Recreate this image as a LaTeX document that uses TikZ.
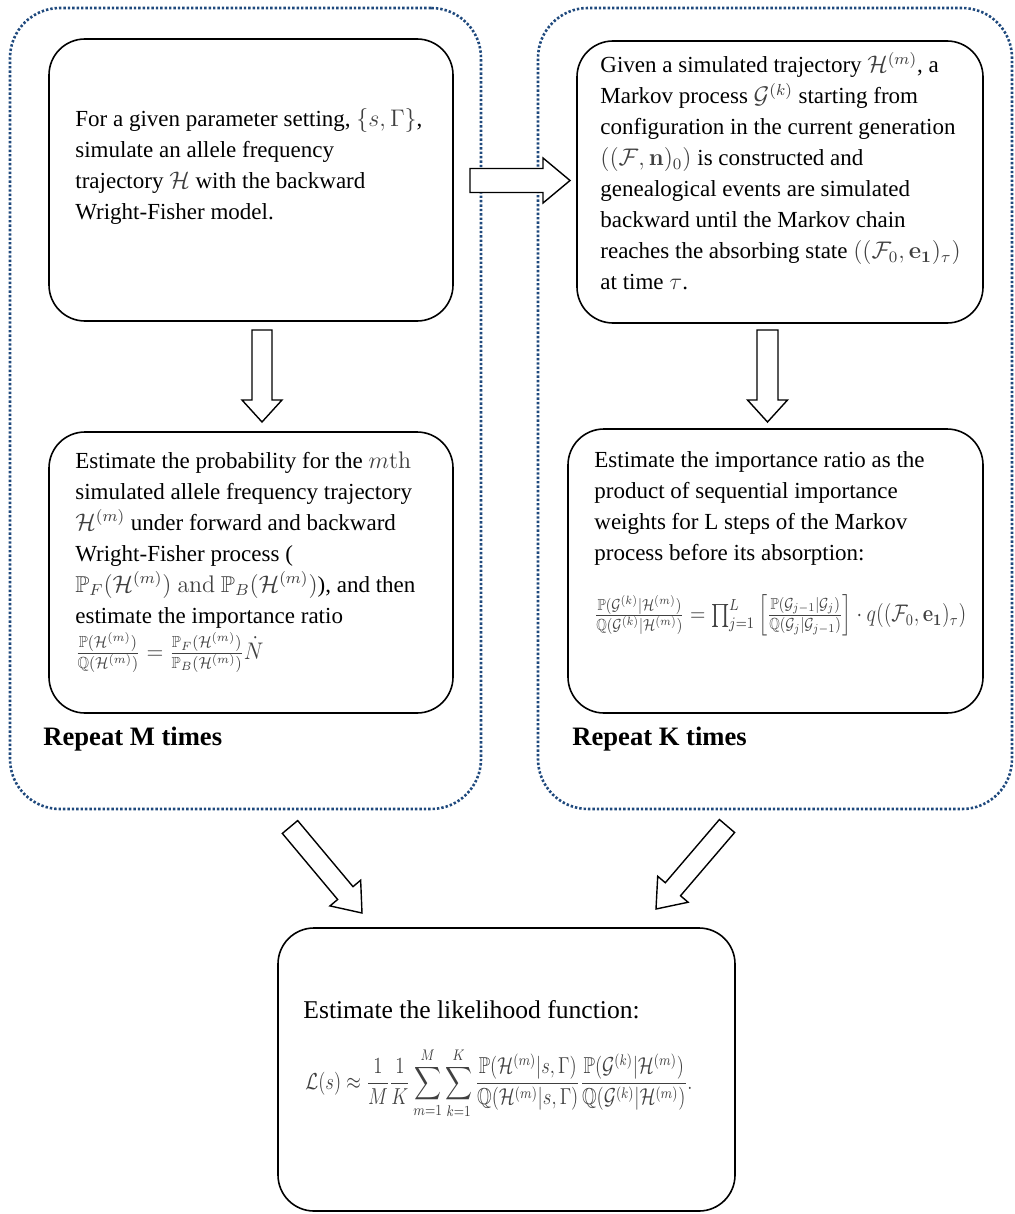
\documentclass[tikz,border=0pt]{standalone}
\usepackage{amsmath,amssymb}
\usepackage{graphicx}
\usepackage[no-math]{fontspec}
\setmainfont{Liberation Serif}
\usetikzlibrary{calc}
\definecolor{dotblue}{RGB}{31,73,125}
\everymath{\color{black!75}}
\newcommand\blockarrow[6]{%
  \coordinate (#3h) at ($(#2)!#6!(#1)$);
  \draw[barrow] ($(#1)!#4!90:(#2)$) -- ($(#3h)!#4!90:(#2)$) -- ($(#3h)!#5!90:(#2)$) -- (#2)
   -- ($(#3h)!#5!-90:(#2)$) -- ($(#3h)!#4!-90:(#2)$) -- ($(#1)!#4!-90:(#2)$) -- cycle;}
\newcommand\para[1]{\parbox[t]{260pt}{\fontsize{11.5pt}{15.5pt}\selectfont #1}}
\begin{document}
\begin{tikzpicture}[x=0.5pt,y=-0.5pt,
  container/.style={draw=dotblue, line width=1.3pt, dash pattern=on 1.2pt off 1pt, rounded corners=25pt, inner sep=0pt},
  roundbox/.style={draw=black, line width=0.8pt, rounded corners=18pt, inner sep=0pt},
  barrow/.style={draw=black, fill=white, line width=0.7pt, line join=miter},
  txt/.style={anchor=base west, inner sep=0pt},
  rep/.style={anchor=base west, inner sep=0pt, font=\fontsize{13.3pt}{15pt}\selectfont\bfseries}]
\useasboundingbox (0,0) rectangle (1015,1214);
% dotted containers
\node[container, minimum width=235.5pt, minimum height=400.5pt] (c1) at (245.5,408.5) {};
\node[container, minimum width=237pt, minimum height=400.5pt] (c2) at (775,408.5) {};
% boxes
\node[roundbox, minimum width=202pt, minimum height=141pt] (b1) at (251,180) {};
\node[roundbox, minimum width=202pt, minimum height=140.5pt] (b2) at (251,572.5) {};
\node[roundbox, minimum width=203pt, minimum height=141pt] (b3) at (780,182) {};
\node[roundbox, minimum width=207.5pt, minimum height=142pt] (b4) at (775.5,571) {};
\node[roundbox, minimum width=228.5pt, minimum height=141.5pt] (b5) at (506.5,1069.5) {};
% texts
\node[txt] (t1) at (75,127) {\para{For a given parameter setting, $\{s,\Gamma\}$,\\
simulate an allele frequency\\
trajectory $\mathcal{H}$ with the backward\\
Wright-Fisher model.}};
\node[txt] (t2) at (75,468) {\para{Estimate the probability for the $m\mathrm{th}$\\
simulated allele frequency trajectory\\
$\mathcal{H}^{(m)}$ under forward and backward\\
Wright-Fisher process (\\
$\mathbb{P}_F(\mathcal{H}^{(m)})\ \mathrm{and}\ \mathbb{P}_B(\mathcal{H}^{(m)})$), and then\\
estimate the importance ratio\\[2.5pt]
\scalebox{0.92}[1]{$\frac{\mathbb{P}(\mathcal{H}^{(m)})}{\mathbb{Q}(\mathcal{H}^{(m)})}=\frac{\mathbb{P}_F(\mathcal{H}^{(m)})}{\mathbb{P}_B(\mathcal{H}^{(m)})}\dot{N}$}}};
\node[txt] (t3) at (600,73) {\para{Given a simulated trajectory $\mathcal{H}^{(m)}$, a\\
Markov process $\mathcal{G}^{(k)}$ starting from\\
configuration in the current generation\\
$((\mathcal{F},\mathbf{n})_0)$ is constructed and\\
genealogical events are simulated\\
backward until the Markov chain\\
reaches the absorbing state $((\mathcal{F}_0,\mathbf{e_1})_\tau)$\\
at time $\tau$.}};
\node[txt] (t4) at (594,467) {\para{Estimate the importance ratio as the\\
product of sequential importance\\
weights for L steps of the Markov\\
process before its absorption:\\[14pt]
\scalebox{0.84}[1]{$\frac{\mathbb{P}(\mathcal{G}^{(k)}|\mathcal{H}^{(m)})}{\mathbb{Q}(\mathcal{G}^{(k)}|\mathcal{H}^{(m)})}=\prod_{j=1}^{L}\left[\frac{\mathbb{P}(\mathcal{G}_{j-1}|\mathcal{G}_j)}{\mathbb{Q}(\mathcal{G}_j|\mathcal{G}_{j-1})}\right]\cdot q((\mathcal{F}_0,\mathbf{e_1})_\tau)$}}};
\node[rep] (rm) at (43,745) {Repeat M times};
\node[rep] (rk) at (572,745) {Repeat K times};
\node[txt, font=\fontsize{12.8pt}{15pt}\selectfont] (t5) at (303,1018) {Estimate the likelihood function:};
\node[txt, font=\fontsize{12pt}{14pt}\selectfont] (f5) at (305,1089) {\scalebox{0.78}[0.96]{$\displaystyle \mathcal{L}(s)\approx\frac{1}{M}\frac{1}{K}\sum_{m=1}^{M}\sum_{k=1}^{K}\frac{\mathbb{P}(\mathcal{H}^{(m)}|s,\Gamma)}{\mathbb{Q}(\mathcal{H}^{(m)}|s,\Gamma)}\frac{\mathbb{P}(\mathcal{G}^{(k)}|\mathcal{H}^{(m)})}{\mathbb{Q}(\mathcal{G}^{(k)}|\mathcal{H}^{(m)})}.$}};
% arrow end points
\coordinate (a1s) at (262,330);
\coordinate (a1e) at (262,422);
\coordinate (ahs) at (470,180.5);
\coordinate (ahe) at (570,180.5);
\coordinate (a2s) at (767.5,330);
\coordinate (a2e) at (767.5,422);
\coordinate (dls) at (290,827);
\coordinate (dle) at (362,913);
\coordinate (drs) at (727,826);
\coordinate (dre) at (656,909);
\blockarrow{a1s}{a1e}{a1}{5pt}{10pt}{11pt}
\blockarrow{ahs}{ahe}{ah}{6pt}{11.25pt}{13.5pt}
\blockarrow{a2s}{a2e}{a2}{5.25pt}{10pt}{11pt}
\blockarrow{dls}{dle}{dl}{5pt}{10pt}{13pt}
\blockarrow{drs}{dre}{dr}{5pt}{10pt}{13pt}
\end{tikzpicture}
\end{document}
